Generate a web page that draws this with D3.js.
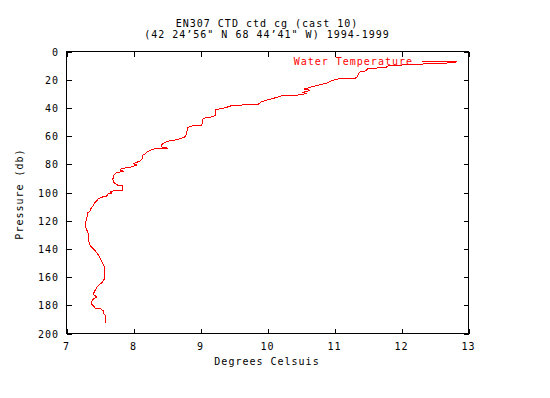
<!DOCTYPE html>
<html>
<head>
<meta charset="utf-8">
<script src="https://cdn.jsdelivr.net/npm/d3@7"></script>
<style>
  body { margin: 0; background: #fff; }
  text { font-family: "DejaVu Sans Mono", monospace; font-size: 10px; letter-spacing: 1px; }
</style>
</head>
<body>
<script>
// CTD cast, temperature vs pressure
const titleLines = ["EN307 CTD ctd cg (cast 10)", "(42 24\u201956\" N 68 44\u201941\" W) 1994-1999"];
const xLabel = "Degrees Celsuis";
const yLabel = "Pressure (db)";
const seriesName = "Water Temperature";

const xTicks = [7, 8, 9, 10, 11, 12, 13];
const yTicks = [0, 20, 40, 60, 80, 100, 120, 140, 160, 180, 200];

const temperature = [12.82, 12.47, 12.25, 12.01, 11.99, 11.79, 11.77, 11.50, 11.47, 11.37,
    11.34, 11.31, 11.08, 10.99, 10.93, 10.90, 10.78, 10.68, 10.55, 10.64,
    10.53, 10.58, 10.44, 10.23, 10.16, 10.08, 10.01, 9.92, 9.86, 9.68,
    9.45, 9.39, 9.31, 9.23, 9.23, 9.16, 9.08, 9.03, 9.02, 8.87,
    8.81, 8.78, 8.74, 8.65, 8.54, 8.47, 8.42, 8.42, 8.51, 8.32,
    8.24, 8.20, 8.18, 8.14, 8.14, 8.12, 8.10, 8.05, 8.00, 8.05,
    7.98, 7.83, 7.80, 7.84, 7.74, 7.71, 7.69, 7.71, 7.77, 7.84,
    7.84, 7.65, 7.67, 7.62, 7.60, 7.52, 7.47, 7.45, 7.42, 7.40,
    7.37, 7.35, 7.32, 7.31, 7.30, 7.28, 7.28, 7.30, 7.32, 7.34,
    7.36, 7.40, 7.43, 7.47, 7.50, 7.52, 7.56, 7.56, 7.53, 7.48,
    7.45, 7.43, 7.41, 7.40, 7.45, 7.40, 7.37, 7.38, 7.41, 7.43,
    7.51, 7.55, 7.56, 7.58, 7.58];
const pressure = [8.0, 8.4, 9.1, 9.3, 10.1, 10.3, 11.5, 11.9, 13.7, 14.7,
    17.9, 19.0, 19.1, 20.2, 21.1, 22.2, 23.6, 24.8, 26.6, 27.5,
    28.9, 29.9, 31.0, 31.2, 32.3, 33.3, 34.2, 35.4, 37.4, 37.7,
    38.6, 39.6, 40.5, 41.2, 45.3, 46.4, 46.9, 48.1, 52.4, 52.8,
    54.0, 60.2, 61.1, 62.5, 63.4, 64.4, 66.0, 67.7, 68.6, 68.9,
    70.3, 71.2, 72.4, 73.5, 75.4, 76.6, 77.5, 78.6, 79.7, 80.5,
    81.8, 83.0, 83.9, 84.9, 86.1, 87.3, 90.8, 93.1, 95.0, 95.4,
    98.4, 99.1, 100.4, 101.1, 102.5, 103.4, 104.5, 106.2, 107.3, 109.2,
    110.8, 113.2, 114.4, 116.8, 119.1, 121.4, 123.9, 126.2, 128.5, 136.8,
    138.0, 139.8, 141.5, 143.9, 146.2, 148.6, 152.2, 161.6, 163.9, 165.8,
    167.4, 169.1, 171.0, 172.2, 174.0, 175.7, 177.6, 179.3, 180.9, 182.3,
    182.4, 184.0, 186.3, 187.0, 192.2];

class ProfileChart {
    constructor(width, height){
        this.width = width;
        this.height = height;
        this.left = 66.5;
        this.right = 468.5;
        this.top = 51.5;
        this.bottom = 333.5;
        this.tick = 5;

        this.x = d3.scaleLinear().domain([7, 13]).range([this.left, this.right]);
        this.y = d3.scaleLinear().domain([0, 200]).range([this.top, this.bottom]);

        this.svg = d3.select("body").append("svg")
            .attr("width", width)
            .attr("height", height);
        this.svg.append("rect")
            .attr("width", width).attr("height", height).attr("fill", "#fff");

        this.drawAxes();
        this.drawLabels();
        this.drawSeries();
    }

    drawAxes(){
        const t = this.tick;
        const g = this.svg.append("g").attr("shape-rendering", "crispEdges");

        // inward ticks, mirrored on all four sides
        g.append("g").attr("transform", `translate(0,${this.bottom})`)
            .call(d3.axisTop(this.x).tickValues(xTicks).tickSize(t).tickFormat(""));
        g.append("g").attr("transform", `translate(0,${this.top})`)
            .call(d3.axisBottom(this.x).tickValues(xTicks).tickSize(t).tickFormat(""));
        g.append("g").attr("transform", `translate(${this.left},0)`)
            .call(d3.axisRight(this.y).tickValues(yTicks).tickSize(t).tickFormat(""));
        g.append("g").attr("transform", `translate(${this.right},0)`)
            .call(d3.axisLeft(this.y).tickValues(yTicks).tickSize(t).tickFormat(""));
        g.selectAll(".domain").remove();
        g.selectAll("line").attr("stroke", "#000");

        g.append("rect")
            .attr("x", this.left).attr("y", this.top)
            .attr("width", this.right - this.left)
            .attr("height", this.bottom - this.top)
            .attr("fill", "none").attr("stroke", "#000");

        this.svg.append("g").selectAll("text").data(xTicks).enter().append("text")
            .attr("x", d => this.x(d))
            .attr("y", 350)
            .attr("text-anchor", "middle")
            .text(d => d);

        this.svg.append("g").selectAll("text").data(yTicks).enter().append("text")
            .attr("x", 59)
            .attr("y", d => this.y(d) + 4)
            .attr("text-anchor", "end")
            .text(d => d);
    }

    drawLabels(){
        this.svg.selectAll(".title").data(titleLines).enter().append("text")
            .attr("class", "title")
            .attr("x", 267)
            .attr("y", (d, i) => 27 + i * 11)
            .attr("text-anchor", "middle")
            .text(d => d);

        this.svg.append("text")
            .attr("x", 267).attr("y", 365)
            .attr("text-anchor", "middle")
            .text(xLabel);

        this.svg.append("text")
            .attr("transform", "translate(23,194) rotate(-90)")
            .attr("text-anchor", "middle")
            .text(yLabel);
    }

    drawSeries(){
        const pts = temperature.map((t, i) => [t, pressure[i]]);
        const line = d3.line().x(d => this.x(d[0])).y(d => this.y(d[1]));

        this.svg.append("path")
            .datum(pts)
            .attr("d", line)
            .attr("fill", "none")
            .attr("stroke", "#f00")
            .attr("stroke-width", 1)
            .attr("shape-rendering", "crispEdges");

        // key: text right-aligned, then a line sample
        this.svg.append("text")
            .attr("x", 413).attr("y", 64.5)
            .attr("text-anchor", "end")
            .attr("fill", "#f00")
            .text(seriesName);
        this.svg.append("line")
            .attr("x1", 421.5).attr("x2", 457)
            .attr("y1", 61.5).attr("y2", 61.5)
            .attr("stroke", "#f00")
            .attr("shape-rendering", "crispEdges");
    }
}

new ProfileChart(550, 398);
</script>
</body>
</html>
